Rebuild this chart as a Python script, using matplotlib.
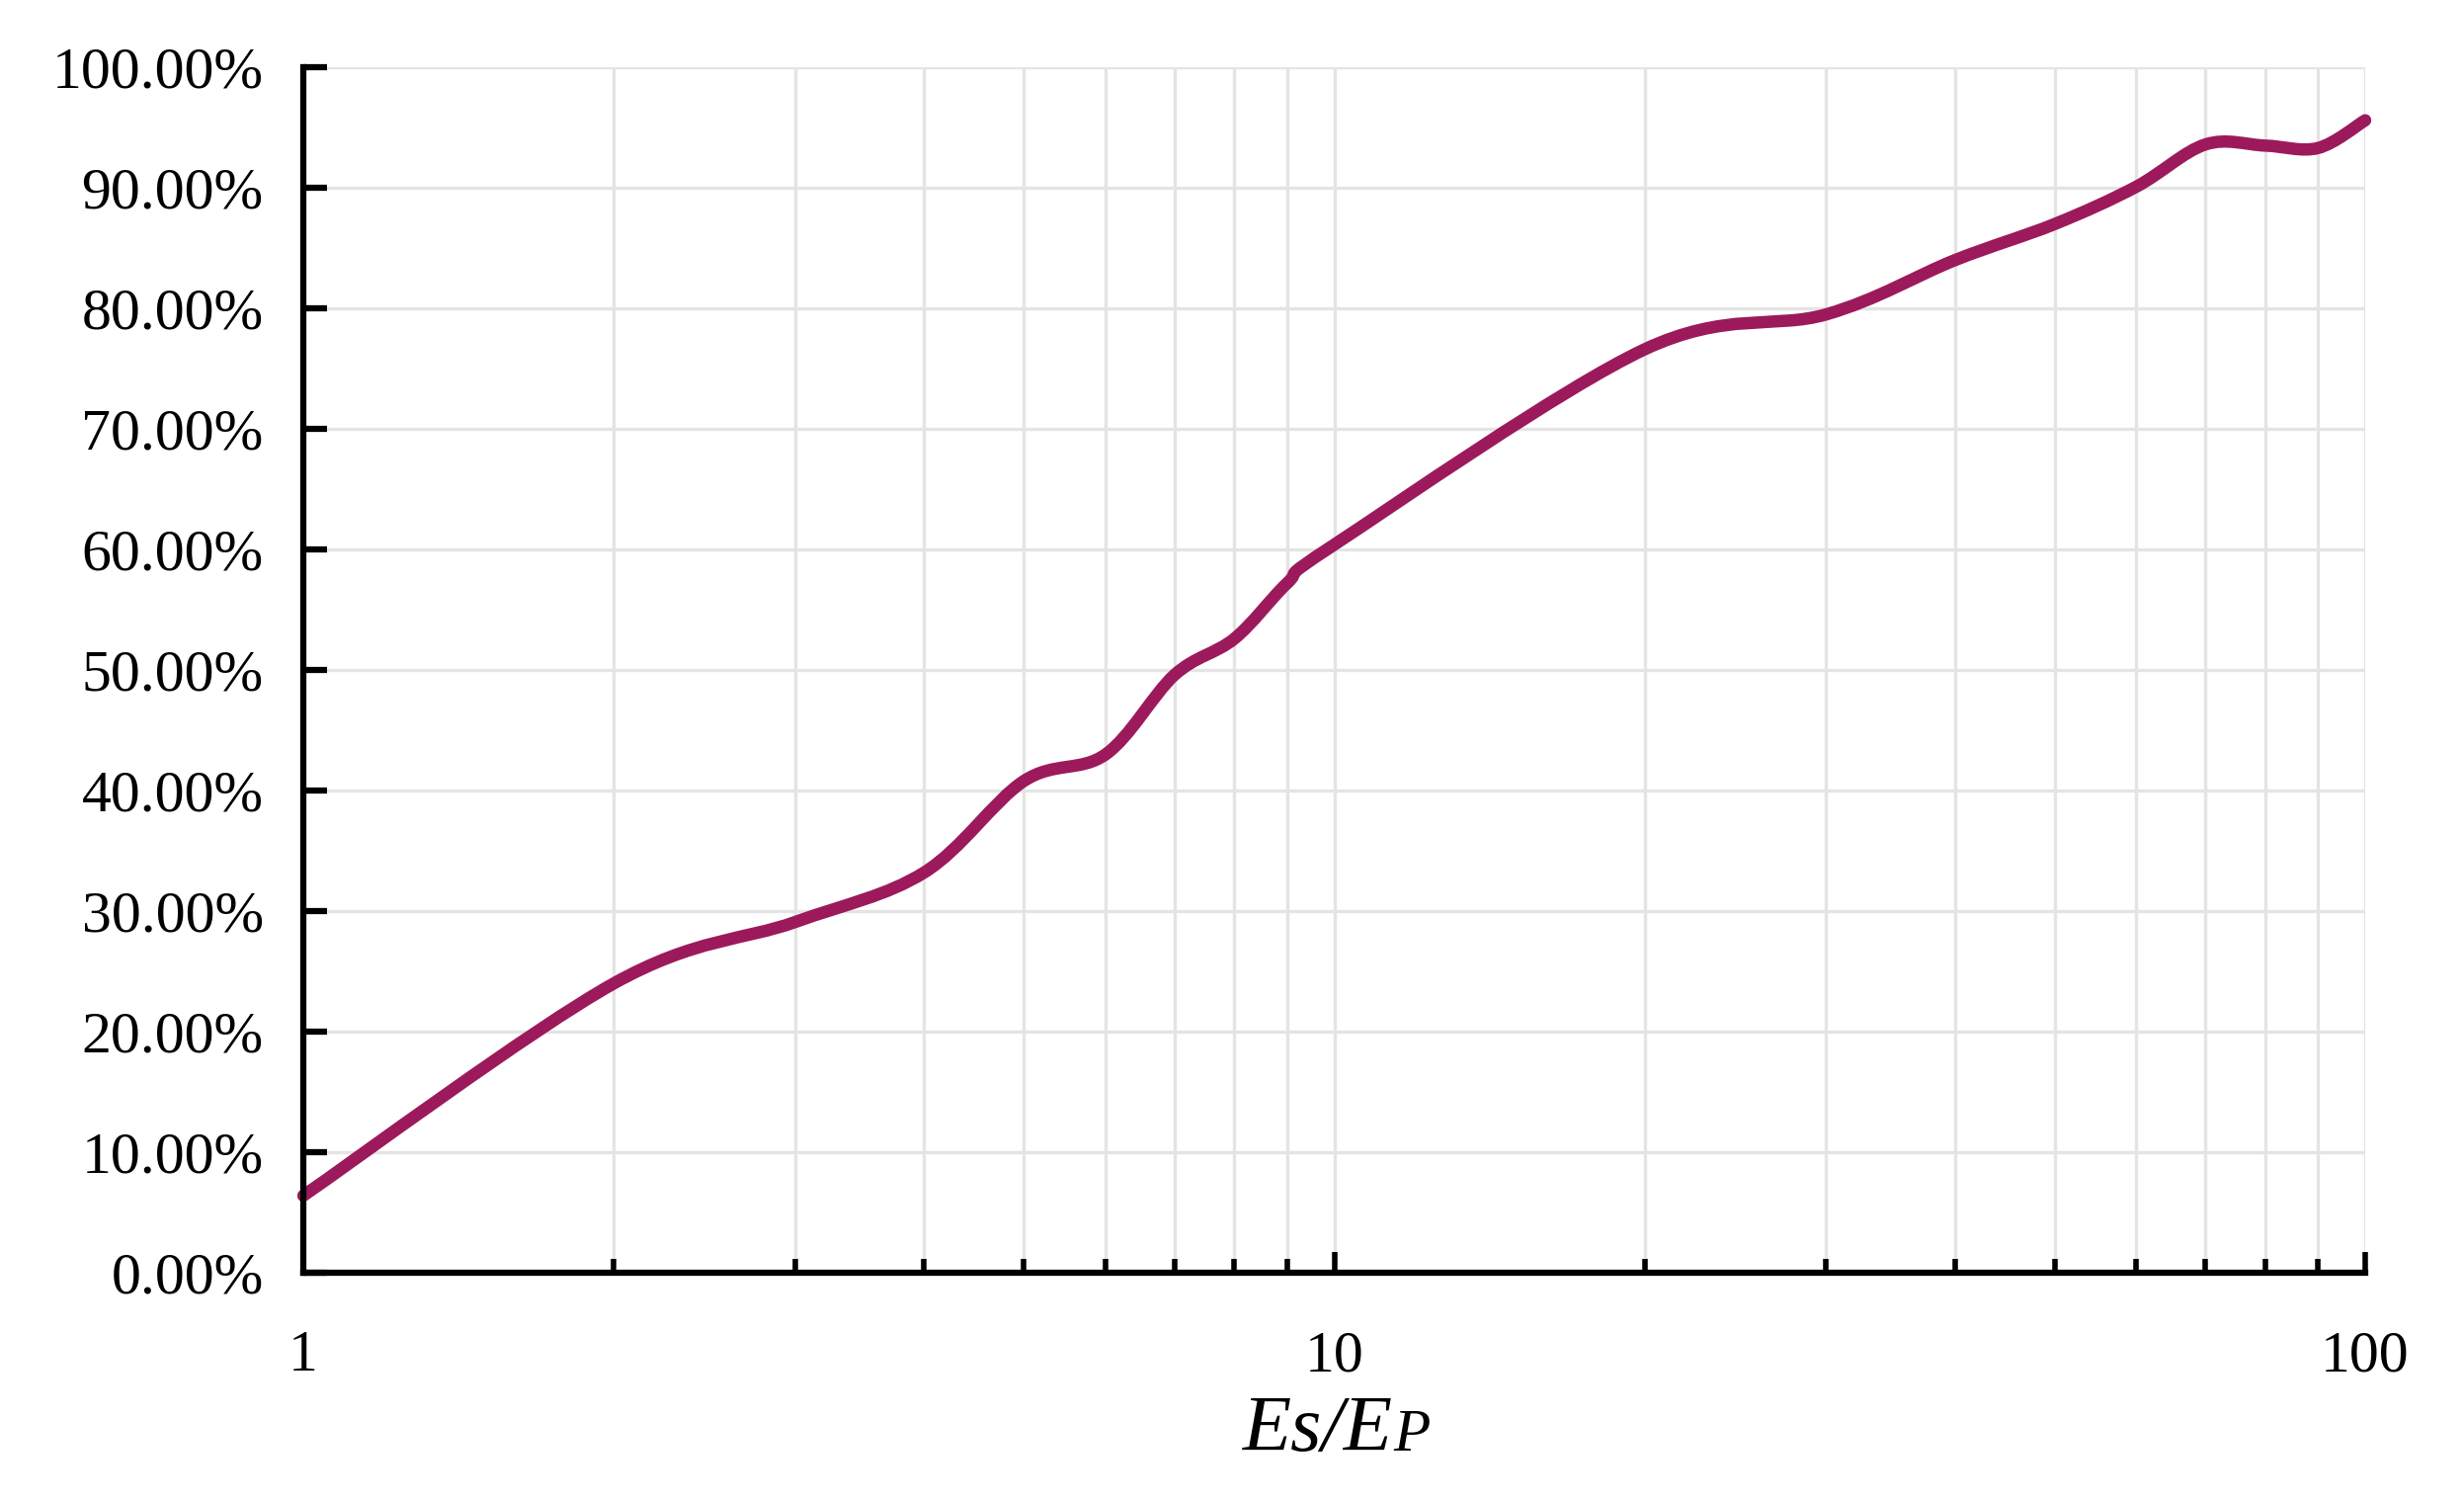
import numpy as np
import matplotlib
matplotlib.use("Agg")
from matplotlib import pyplot as plt
from matplotlib.path import Path
from matplotlib.patches import PathPatch
import matplotlib.ticker as ticker

# data (Excel smoothed line)
ratio = [1, 2, 3, 4, 5, 6, 7, 8, 9, 10, 20, 30, 40, 50, 60, 70, 80, 90, 100]
share = [6.4, 24.0, 29.1, 33.2, 40.8, 43.0, 49.6, 52.6, 57.2, 60.4,
         76.6, 79.5, 84.0, 87.0, 90.1, 93.6, 93.5, 93.3, 95.6]
yticks = [0, 10, 20, 30, 40, 50, 60, 70, 80, 90, 100]
xticks = [1, 10, 100]
xlabel_main = 'Es/E'
xlabel_small = 'P'

plt.rcParams['font.family'] = ['Liberation Serif', 'DejaVu Serif']
line_color = '#9c1a5b'
grid_color = '#e4e4e4'


def smooth_path(xs, ys):
    # bezier segments like Excel's "smoothed line", built in log-x space
    p = np.column_stack([np.log10(xs), ys])
    n = len(p)
    verts = [p[0]]
    codes = [Path.MOVETO]
    for i in range(n - 1):
        p0 = p[i - 1] if i > 0 else p[i]
        p3 = p[i + 2] if i + 2 < n else p[i + 1]
        c1 = p[i] + (p[i + 1] - p0) / 6.0
        c2 = p[i + 1] - (p3 - p[i]) / 6.0
        verts += [c1, c2, p[i + 1]]
        codes += [Path.CURVE4] * 3
    verts = np.array(verts)
    verts[:, 0] = 10 ** verts[:, 0]
    return Path(verts, codes)


fig = plt.figure(figsize=(24.94, 15.19), dpi=100)
ax = fig.add_axes([0.1231, 0.152, 0.8368, 0.8032])

ax.set_xscale('log')
ax.set_xlim(1, 100)
ax.set_ylim(0, 100)

patch = PathPatch(smooth_path(ratio, share), fill=False, ec=line_color,
                  lw=9, capstyle='round', joinstyle='round', zorder=3,
                  clip_on=False)
ax.add_patch(patch)

ax.set_yticks(yticks)
ax.yaxis.set_major_formatter(ticker.FuncFormatter(lambda v, p: '%.2f%%' % v))
ax.set_xticks(xticks)
ax.xaxis.set_major_formatter(ticker.FuncFormatter(lambda v, p: '%d' % v))
ax.xaxis.set_minor_locator(ticker.LogLocator(base=10, subs=np.arange(2, 10)))
ax.xaxis.set_minor_formatter(ticker.NullFormatter())

ax.grid(True, which='both', color=grid_color, lw=2.4, zorder=0)
ax.set_axisbelow(True)

for s in ['top', 'right']:
    ax.spines[s].set_visible(False)
for s in ['left', 'bottom']:
    ax.spines[s].set_linewidth(4.5)
    ax.spines[s].set_color('black')
    ax.spines[s].set_zorder(4)

ax.tick_params(axis='y', which='major', direction='in', length=17, width=4.5,
               labelsize=43, pad=29)
ax.tick_params(axis='x', which='major', direction='in', length=15, width=4,
               labelsize=43, pad=42)
ax.tick_params(axis='x', which='minor', direction='in', length=10, width=4)

# axis title: "Es/E" with a smaller "P"
fig.text(0.5655, 0.0336, xlabel_main, ha='right', va='baseline', fontsize=58,
         style='italic')
fig.text(0.5655, 0.0336, xlabel_small, ha='left', va='baseline', fontsize=44,
         style='italic')

fig.savefig('out.png', dpi=100, facecolor='white')
